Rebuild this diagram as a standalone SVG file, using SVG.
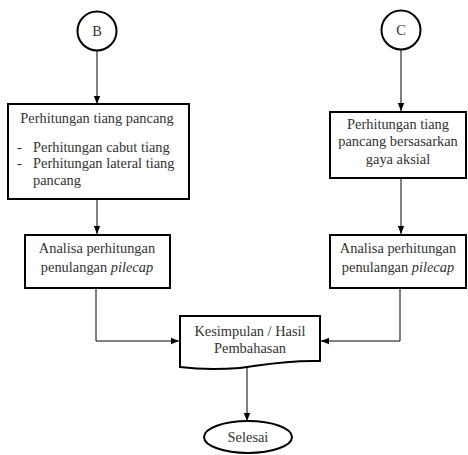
<svg xmlns="http://www.w3.org/2000/svg" width="468" height="455" viewBox="0 0 468 455" font-family="'Liberation Serif', 'DejaVu Serif', serif">
<style>
.box{fill:#fff;stroke:#000;stroke-width:2}
.ln{fill:none;stroke:#000;stroke-width:1}
text{font-family:'Liberation Serif','DejaVu Serif',serif;font-size:14.4px;fill:#333}
.c{text-anchor:middle}
</style>
<defs>
<marker id="ah" viewBox="0 0 8 8" refX="8" refY="4" markerWidth="8" markerHeight="8" markerUnits="userSpaceOnUse" orient="auto">
<path d="M0,0.8 L8,4 L0,7.2 Z" fill="#000"/>
</marker>
</defs>
<g id="connectors">
<line class="ln" x1="97" y1="51" x2="97" y2="104" marker-end="url(#ah)"/>
<line class="ln" x1="97" y1="199" x2="97" y2="234" marker-end="url(#ah)"/>
<line class="ln" x1="401" y1="50" x2="401" y2="111" marker-end="url(#ah)"/>
<line class="ln" x1="401" y1="179" x2="401" y2="234" marker-end="url(#ah)"/>
<polyline class="ln" points="96,288 96,341 179,341" marker-end="url(#ah)"/>
<polyline class="ln" points="400,288 400,341 321,341" marker-end="url(#ah)"/>
<line class="ln" x1="247" y1="366" x2="247" y2="421" marker-end="url(#ah)"/>
</g>
<g id="nodeB">
<circle class="box" cx="97" cy="31" r="19.5"/>
<text class="c" x="97" y="36">B</text>
</g>
<g id="nodeC">
<circle class="box" cx="401" cy="30" r="19.5"/>
<text class="c" x="401" y="35">C</text>
</g>
<g id="box1">
<rect class="box" x="8" y="104" width="181" height="95"/>
<text class="c" x="97" y="123">Perhitungan tiang pancang</text>
<text x="17" y="152">-</text>
<text x="33" y="152">Perhitungan cabut tiang</text>
<text x="17" y="168">-</text>
<text x="33" y="168">Perhitungan lateral tiang</text>
<text x="33" y="185">pancang</text>
</g>
<g id="box2">
<rect class="box" x="25" y="235" width="145" height="53"/>
<text class="c" x="97" y="253">Analisa perhitungan</text>
<text class="c" x="97" y="272">penulangan <tspan font-style="italic">pilecap</tspan></text>
</g>
<g id="boxC1">
<rect class="box" x="330" y="112" width="136" height="66"/>
<text class="c" x="398" y="129">Perhitungan tiang</text>
<text class="c" x="398" y="146">pancang bersasarkan</text>
<text class="c" x="398" y="164">gaya aksial</text>
</g>
<g id="boxC2">
<rect class="box" x="330" y="235" width="136" height="53"/>
<text class="c" x="398" y="253">Analisa perhitungan</text>
<text class="c" x="398" y="272">penulangan <tspan font-style="italic">pilecap</tspan></text>
</g>
<g id="kesimpulan">
<path class="box" d="M180,316 L320,316 L320,361 C280,360 260,366 240,368 C215,370 195,369 180,367 Z"/>
<text class="c" x="250" y="336">Kesimpulan / Hasil</text>
<text class="c" x="250" y="353">Pembahasan</text>
</g>
<g id="selesai">
<ellipse class="box" cx="248" cy="437" rx="44" ry="16"/>
<text class="c" x="248" y="442">Selesai</text>
</g>
</svg>
